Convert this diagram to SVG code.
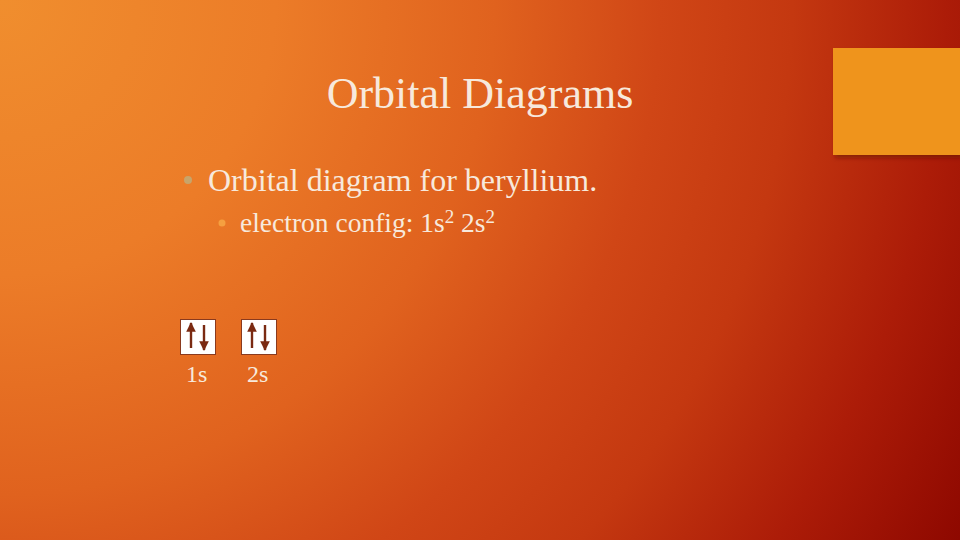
<svg xmlns="http://www.w3.org/2000/svg" width="960" height="540" viewBox="0 0 960 540">
  <defs>
    <radialGradient id="bg" gradientUnits="userSpaceOnUse" cx="0" cy="0" r="1100">
      <stop offset="0" stop-color="#F08E2E"/>
      <stop offset="0.25" stop-color="#EC7C28"/>
      <stop offset="0.45" stop-color="#E0621E"/>
      <stop offset="0.6" stop-color="#D04616"/>
      <stop offset="0.72" stop-color="#C43810"/>
      <stop offset="0.86" stop-color="#AC1C08"/>
      <stop offset="1" stop-color="#8E0800"/>
    </radialGradient>
    <filter id="shadow" x="-10%" y="-10%" width="130%" height="140%">
      <feDropShadow dx="2" dy="3" stdDeviation="2" flood-color="#5a1000" flood-opacity="0.5"/>
    </filter>
    <marker id="ah" viewBox="0 0 10 10" refX="9" refY="5" markerWidth="4" markerHeight="4" orient="auto">
      <path d="M0,0 L10,5 L0,10 z" fill="#7A2A12"/>
    </marker>
  </defs>
  <style>
    .txt { font-family: "Liberation Serif", "Times New Roman", serif; fill: #F7E9DC; }
    .box { fill: #FFFFFF; stroke: #8A3A1E; stroke-width: 1; }
    .arrow { stroke: #7A2A12; stroke-width: 2.4; fill: none; marker-end: url(#ah); }
  </style>
  <rect x="0" y="0" width="960" height="540" fill="url(#bg)"/>
  <rect x="833" y="48" width="127" height="107" fill="#EF941B" filter="url(#shadow)"/>

  <text class="txt" x="480" y="108" font-size="44" text-anchor="middle">Orbital Diagrams</text>

  <circle cx="188" cy="180" r="4" fill="#C8A46A"/>
  <text class="txt" x="208" y="191" font-size="32">Orbital diagram for beryllium.</text>

  <circle cx="222" cy="223" r="3.5" fill="#F5A040"/>
  <text class="txt" x="240" y="232" font-size="27.5">electron config: 1s<tspan font-size="19" dy="-9">2</tspan><tspan dy="9"> 2s</tspan><tspan font-size="19" dy="-9">2</tspan></text>

  <g id="orbital-1s">
    <rect class="box" x="180.5" y="319.5" width="35" height="35"/>
    <line class="arrow" x1="191" y1="348" x2="191" y2="323"/>
    <line class="arrow" x1="204" y1="325" x2="204" y2="350"/>
    <text class="txt" x="186" y="382" font-size="24">1s</text>
  </g>
  <g id="orbital-2s">
    <rect class="box" x="241.5" y="319.5" width="35" height="35"/>
    <line class="arrow" x1="252" y1="348" x2="252" y2="323"/>
    <line class="arrow" x1="265" y1="325" x2="265" y2="350"/>
    <text class="txt" x="247" y="382" font-size="24">2s</text>
  </g>
  <g id="connectors"></g>
</svg>
